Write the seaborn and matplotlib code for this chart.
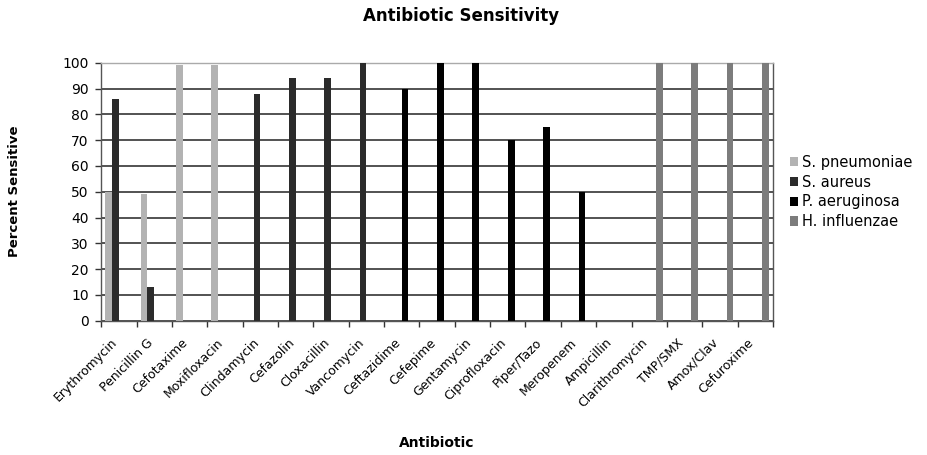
import numpy as np
import pandas as pd
import matplotlib
matplotlib.use('Agg')
import matplotlib.pyplot as plt
import matplotlib.transforms as mtransforms
from matplotlib.patches import Patch
from matplotlib.ticker import FixedLocator, MultipleLocator
import seaborn as sns

# Antibiotics on the x axis
antibiotics = ['Erythromycin', 'Penicillin G', 'Cefotaxime', 'Moxifloxacin', 'Clindamycin',
               'Cefazolin', 'Cloxacillin', 'Vancomycin', 'Ceftazidime', 'Cefepime',
               'Gentamycin', 'Ciprofloxacin', 'Piper/Tazo', 'Meropenem', 'Ampicillin',
               'Clarithromycin', 'TMP/SMX', 'Amox/Clav', 'Cefuroxime']

organisms = ['S. pneumoniae', 'S. aureus', 'P. aeruginosa', 'H. influenzae']

# Percent sensitive
s_pneumoniae = [50, 49, 99, 99, 0, 0, 0, 0, 0, 0, 0, 0, 0, 0, 0, 0, 0, 0, 0]
s_aureus = [86, 13, 0, 0, 88, 94, 94, 100, 0, 0, 0, 0, 0, 0, 0, 0, 0, 0, 0]
p_aeruginosa = [0, 0, 0, 0, 0, 0, 0, 0, 90, 100, 100, 70, 75, 50, 0, 0, 0, 0, 0]
h_influenzae = [0, 0, 0, 0, 0, 0, 0, 0, 0, 0, 0, 0, 0, 0, 0, 100, 100, 100, 100]

colors = ['#b3b3b3', '#2b2b2b', '#000000', '#7c7c7c']

df = pd.DataFrame({
    'Antibiotic': antibiotics * 4,
    'Organism': np.repeat(organisms, len(antibiotics)),
    'Percent': s_pneumoniae + s_aureus + p_aeruginosa + h_influenzae,
})

sns.set_style('white')
plt.rcParams['font.family'] = ['DejaVu Sans']
plt.rcParams['text.color'] = 'black'
plt.rcParams['xtick.color'] = 'black'
plt.rcParams['ytick.color'] = 'black'

fig = plt.figure(figsize=(9.28, 4.55), dpi=100)
ax = fig.add_axes([0.109, 0.295, 0.724, 0.567])

sns.barplot(data=df, x='Antibiotic', y='Percent', hue='Organism', order=antibiotics,
            hue_order=organisms, palette=colors, saturation=1, width=0.76, gap=0,
            linewidth=0, errorbar=None, legend=False, ax=ax, zorder=3)

ax.set_xlim(-0.5, len(antibiotics) - 0.5)
ax.set_ylim(0, 100)
ax.yaxis.set_major_locator(MultipleLocator(10))
ax.grid(axis='y', color='#444444', linewidth=1.3, zorder=0)
ax.set_axisbelow(True)
for s in ax.spines.values():
    s.set_color('#555555')
    s.set_linewidth(1.0)
ax.spines['top'].set_color('#aaaaaa')

ax.set_xlabel('')
ax.set_ylabel('')
ax.tick_params(axis='y', which='major', left=True, length=4, width=1, color='#333333',
               labelsize=10, pad=5)
ax.tick_params(axis='x', which='major', length=0, labelsize=9, pad=11)
ax.xaxis.set_minor_locator(FixedLocator(np.arange(-0.5, len(antibiotics), 1)))
ax.tick_params(axis='x', which='minor', bottom=True, length=4, width=1, color='#333333')

offset = mtransforms.ScaledTranslation(-8 / 100, 0, fig.dpi_scale_trans)
for lbl in ax.get_xticklabels():
    lbl.set_rotation(45)
    lbl.set_ha('right')
    lbl.set_va('top')
    lbl.set_rotation_mode('anchor')
    lbl.set_transform(lbl.get_transform() + offset)

fig.text(0.497, 0.965, 'Antibiotic Sensitivity', ha='center', va='center',
         fontsize=12, fontweight='bold')
fig.text(0.471, 0.026, 'Antibiotic', ha='center', va='center', fontsize=10, fontweight='bold')
fig.text(0.016, 0.58, 'Percent Sensitive', ha='center', va='center', rotation=90,
         fontsize=9.5, fontweight='bold')

handles = [Patch(facecolor=c, edgecolor='none') for c in colors]
fig.legend(handles, organisms, loc='center left', bbox_to_anchor=(0.851, 0.578),
           frameon=False, fontsize=10.5, handlelength=0.6, handleheight=0.6,
           handletextpad=0.25, labelspacing=0.33, borderaxespad=0, borderpad=0)

fig.savefig('out.png', dpi=100)
